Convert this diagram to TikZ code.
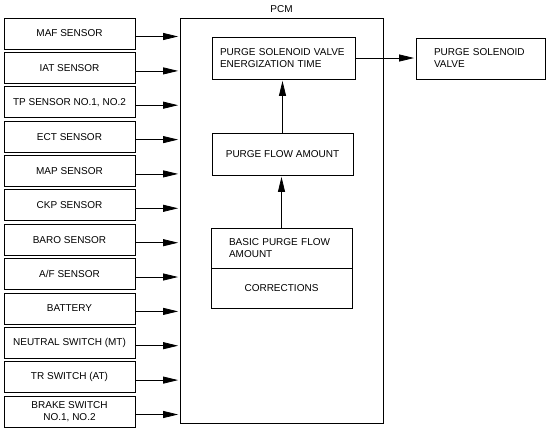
\documentclass[tikz,border=0pt]{standalone}
\usepackage{fontspec}
\setmainfont{Liberation Sans}
\usetikzlibrary{arrows.meta}

\begin{document}
\begin{tikzpicture}[x=1pt, y=-1pt, font=\fontsize{10}{12}\selectfont,
		sensor/.style={draw, rectangle, line width=0.8pt, minimum width=131pt, minimum height=31pt, inner sep=1pt, align=center},
		block/.style={draw, rectangle, line width=0.8pt, minimum height=42pt},
		sig/.style={-{Triangle[length=15pt, width=7pt]}, line width=0.8pt, shorten >=1.5pt}]
				\useasboundingbox (0,0) rectangle (550,429);
				% PCM frame
				\node[draw, rectangle, line width=0.8pt, minimum width=203pt, minimum height=405pt, label={[label distance=1pt]above:PCM}] (pcm)at(281.5, 220.5) {};
				% input sensors and switches
				\node[sensor] (maf)at(69.5, 33.5) {MAF SENSOR};
				\node[sensor] (iat)at(69.5, 67.9) {IAT SENSOR};
				\node[sensor] (tp)at(69.5, 102.2) {TP SENSOR NO.1, NO.2};
				\node[sensor] (ect)at(69.5, 136.6) {ECT SENSOR};
				\node[sensor] (map)at(69.5, 170.9) {MAP SENSOR};
				\node[sensor] (ckp)at(69.5, 205.3) {CKP SENSOR};
				\node[sensor] (baro)at(69.5, 239.7) {BARO SENSOR};
				\node[sensor] (af)at(69.5, 274.0) {A/F SENSOR};
				\node[sensor] (batt)at(69.5, 308.4) {BATTERY};
				\node[sensor] (neutral)at(69.5, 342.7) {NEUTRAL SWITCH (MT)};
				\node[sensor] (tr)at(69.5, 377.1) {TR SWITCH (AT)};
				\node[sensor] (brake)at(69.5, 411.5) {BRAKE SWITCH\\NO.1, NO.2};
				% blocks inside the PCM
				\node[block, text width=127pt, inner xsep=8pt, align=left] (energ)at(283.5, 58) {PURGE SOLENOID VALVE\\ENERGIZATION TIME};
				\node[block, minimum width=141pt] (flow)at(282.5, 154) {PURGE FLOW AMOUNT};
				\node[block, minimum height=40pt, text width=105pt, inner xsep=18pt, align=left] (basic)at(281.5, 248) {BASIC PURGE FLOW\\AMOUNT};
				\node[block, minimum height=40pt, minimum width=141pt] (corr)at(281.5, 288) {CORRECTIONS};
				% output
				\node[block, minimum height=41pt, text width=93pt, inner xsep=18pt, align=left] (valve)at(480.5, 58.5) {PURGE SOLENOID\\VALVE};
				\draw[sig] ([yshift=-3pt]maf.east) -- ([yshift=-3pt]maf.east -| pcm.west);
				\draw[sig] ([yshift=-3pt]iat.east) -- ([yshift=-3pt]iat.east -| pcm.west);
				\draw[sig] ([yshift=-3pt]tp.east) -- ([yshift=-3pt]tp.east -| pcm.west);
				\draw[sig] ([yshift=-3pt]ect.east) -- ([yshift=-3pt]ect.east -| pcm.west);
				\draw[sig] ([yshift=-3pt]map.east) -- ([yshift=-3pt]map.east -| pcm.west);
				\draw[sig] ([yshift=-3pt]ckp.east) -- ([yshift=-3pt]ckp.east -| pcm.west);
				\draw[sig] ([yshift=-3pt]baro.east) -- ([yshift=-3pt]baro.east -| pcm.west);
				\draw[sig] ([yshift=-3pt]af.east) -- ([yshift=-3pt]af.east -| pcm.west);
				\draw[sig] ([yshift=-3pt]batt.east) -- ([yshift=-3pt]batt.east -| pcm.west);
				\draw[sig] ([yshift=-3pt]neutral.east) -- ([yshift=-3pt]neutral.east -| pcm.west);
				\draw[sig] ([yshift=-3pt]tr.east) -- ([yshift=-3pt]tr.east -| pcm.west);
				\draw[sig] ([yshift=-3pt]brake.east) -- ([yshift=-3pt]brake.east -| pcm.west);
				\draw[sig] (basic.north) -- (basic.north |- flow.south);
				\draw[sig] (flow.north) -- (flow.north |- energ.south);
				\draw[sig] (energ.east) -- (energ.east -| valve.west);
			\end{tikzpicture}
\end{document}
